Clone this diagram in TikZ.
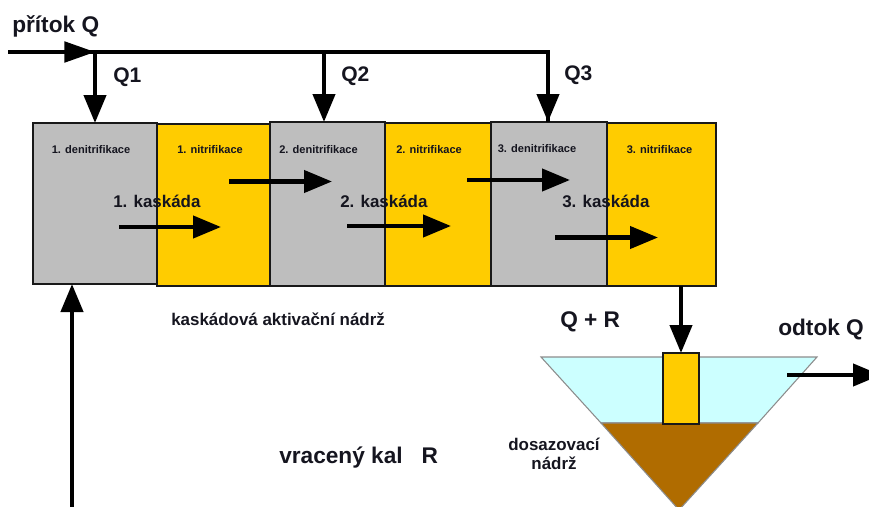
\documentclass[tikz,border=0pt]{standalone}
\usepackage{fontspec}
\setmainfont{Liberation Sans}[BoldFont={Liberation Sans Bold}]
\usetikzlibrary{arrows.meta}
\definecolor{tankgray}{HTML}{BEBEBE}
\definecolor{tankyellow}{HTML}{FFCC00}
\definecolor{water}{HTML}{CCFFFF}
\definecolor{sludge}{HTML}{B06C00}
\definecolor{inktext}{HTML}{15151F}
\tikzset{
  tank/.style={draw=black!90,line width=1.6pt,inner sep=0pt,outer sep=0pt},
  flow/.style={line width=3.2pt,draw=black,-{Triangle[length=21pt,width=16.5pt]}},
  pipe/.style={line width=2.4pt,draw=black},
  tiny/.style={font=\fontsize{8.3}{10}\selectfont\bfseries,text=inktext,inner sep=0pt},
  mid/.style={font=\fontsize{12.7}{15.5}\selectfont\bfseries,text=inktext,inner sep=0pt,align=center},
  big/.style={font=\fontsize{17}{20}\selectfont\bfseries,text=inktext,inner sep=0pt},
  qlab/.style={font=\fontsize{15.8}{20}\selectfont\bfseries,text=inktext,inner sep=0pt},
}
\begin{document}
\begin{tikzpicture}[x=0.75pt,y=-0.75pt]
\useasboundingbox (0,0) rectangle (869,507);
% tanks
\node[tank,fill=tankgray,minimum width=93pt,minimum height=120.75pt] (g1) at (95,203.5) {};
\node[tank,fill=tankyellow,minimum width=84.75pt,minimum height=121.5pt] (y1) at (213.5,205) {};
\node[tank,fill=tankgray,minimum width=86.25pt,minimum height=123pt] (g2) at (327.5,204) {};
\node[tank,fill=tankyellow,minimum width=79.5pt,minimum height=122.25pt] (y2) at (438,204.5) {};
\node[tank,fill=tankgray,minimum width=87pt,minimum height=123pt] (g3) at (549,204) {};
\node[tank,fill=tankyellow,minimum width=81.75pt,minimum height=122.25pt] (y3) at (661.5,204.5) {};
% settling tank
\fill[water,draw=black!45,line width=0.8pt] (541,357) -- (817,357) -- (758,423) -- (601,423) -- cycle;
\fill[sludge,draw=black!45,line width=0.8pt] (601,423) -- (758,423) -- (679,510) -- cycle;
\node[tank,fill=tankyellow,line width=1.2pt,minimum width=27pt,minimum height=53.25pt] (inlet) at (681,388.5) {};
% feed line
\coordinate (src) at (8,52);
\coordinate (j1) at (95,52);
\coordinate (j2) at (324,52);
\coordinate (j3) at (548,52);
\draw[pipe] (src) -- (j3) -- (j3|-g3.north);
\draw[line width=2.4pt,-{Triangle[length=23pt,width=15.5pt]}] (src) -- (j1);
\draw[flow] (j1) -- (j1|-g1.north);
\draw[flow] (j2) -- (j2|-g2.north);
\draw[flow] (j3) -- (j3|-g3.north);
% internal flows
\coordinate (a1s) at (119,227); \coordinate (a1e) at (221,227);
\coordinate (b1s) at (229,181.5); \coordinate (b1e) at (332,181.5);
\coordinate (a2s) at (347,226); \coordinate (a2e) at (451,226);
\coordinate (b2s) at (467,180); \coordinate (b2e) at (570,180);
\coordinate (a3s) at (555,237.5); \coordinate (a3e) at (658,237.5);
\draw[flow] (a1s) -- (a1e);
\draw[flow] (b1s) -- (b1e);
\draw[flow] (a2s) -- (a2e);
\draw[flow] (b2s) -- (b2e);
\draw[flow] (a3s) -- (a3e);
% return, outlet
\coordinate (ret) at (72,507);
\draw[flow] (ret) -- (ret|-g1.south);
\coordinate (ys) at (681,286);
\draw[flow] (y3.south-|ys) -- (inlet.north);
\coordinate (os) at (787,375); \coordinate (oe) at (881,375);
\draw[flow] (os) -- (oe);
% labels
\node[big,anchor=west] (t0) at (12,26) {přítok Q};
\node[qlab,anchor=west] (tq1) at (113,77) {Q1};
\node[qlab,anchor=west] (tq2) at (341,76) {Q2};
\node[qlab,anchor=west] (tq3) at (564,75) {Q3};
\node[tiny,anchor=west] (l1) at (51.5,150) {1. denitrifikace};
\node[tiny,anchor=west] (l2) at (177,150) {1. nitrifikace};
\node[tiny,anchor=west] (l3) at (279,150) {2. denitrifikace};
\node[tiny,anchor=west] (l4) at (396,150) {2. nitrifikace};
\node[tiny,anchor=west] (l5) at (497.5,148.5) {3. denitrifikace};
\node[tiny,anchor=west] (l6) at (626.5,150) {3. nitrifikace};
\node[mid,anchor=west] (k1) at (113,201.5) {1. kaskáda};
\node[mid,anchor=west] (k2) at (340,201.5) {2. kaskáda};
\node[mid,anchor=west] (k3) at (562,201.5) {3. kaskáda};
\node[mid,anchor=west] (tk) at (171,319) {kaskádová aktivační nádrž};
\node[big,anchor=west] (qr) at (560,322) {Q + R};
\node[big,anchor=west] (odt) at (778,329.5) {odtok Q};
\node[big,anchor=west] (vr) at (279,458) {vracený kal\ \ \ R};
\node[mid] (dz) at (554,454) {dosazovací\\[-1.5pt]nádrž};
\end{tikzpicture}
\end{document}
